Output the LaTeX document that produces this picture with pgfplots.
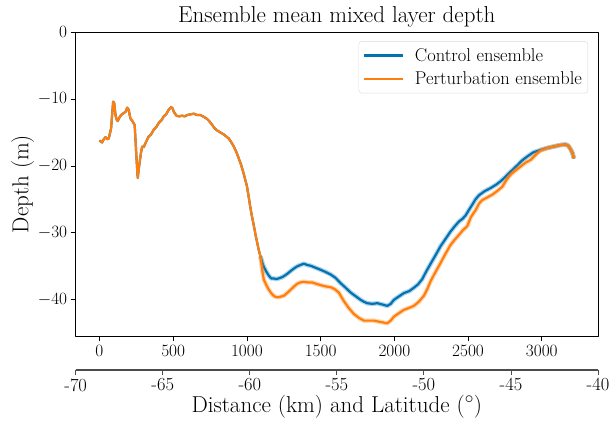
\documentclass[border=0pt]{standalone}
\usepackage{pgfplots}
\pgfplotsset{compat=1.18}
\usepackage{pgfplotstable}
\definecolor{cblue}{RGB}{1,115,178}
\definecolor{corange}{RGB}{255,127,14}

\pgfplotstableread{
x y
0 -16.2
18 -16.5
30 -16.0
41 -15.7
52 -16.0
63 -15.9
79 -14.4
93 -10.4
100 -10.6
109 -12.4
117 -13.1
124 -13.3
135 -12.8
147 -12.4
165 -12.1
178 -11.9
188 -11.3
198 -11.6
210 -12.9
226 -13.4
239 -13.9
249 -17.9
256 -20.6
260 -21.8
266 -20.6
273 -19.4
282 -18.0
290 -17.1
300 -17.2
312 -16.6
334 -15.6
350 -15.3
368 -14.6
385 -14.2
402 -13.6
420 -13.2
436 -12.6
452 -12.3
470 -11.6
486 -11.2
496 -11.4
504 -11.9
522 -12.5
540 -12.6
561 -12.5
578 -12.6
595 -12.4
618 -12.3
640 -12.2
662 -12.4
685 -12.4
710 -12.7
731 -13.0
748 -13.4
765 -13.9
782 -14.4
798 -14.7
820 -15.0
843 -15.3
860 -15.6
877 -15.9
895 -16.5
911 -17.1
928 -17.9
945 -18.9
960 -19.8
975 -20.9
988 -22.0
1000 -23.0
1012 -24.6
1022 -26.0
1033 -27.4
1045 -28.7
1058 -30.2
1070 -31.5
1082 -32.7
1092 -33.5
}\common

\pgfplotstableread{
x y
1092 -33.5
1104 -34.4
1115 -35.1
1132 -35.8
1149 -36.4
1165 -36.8
1182 -36.8
1198 -36.9
1216 -36.8
1240 -36.6
1262 -36.3
1280 -36.0
1296 -35.7
1320 -35.3
1341 -35.0
1362 -34.8
1386 -34.6
1410 -34.8
1431 -34.9
1465 -35.2
1499 -35.5
1530 -35.8
1567 -36.2
1600 -36.7
1635 -37.5
1670 -38.2
1703 -38.9
1740 -39.5
1771 -40.0
1795 -40.3
1816 -40.5
1850 -40.6
1884 -40.5
1920 -40.7
1952 -40.9
1975 -40.6
1997 -40.0
2030 -39.5
2064 -39.0
2100 -38.7
2132 -38.2
2160 -37.7
2189 -36.9
2215 -35.8
2246 -34.6
2280 -33.3
2313 -32.0
2347 -30.9
2381 -29.8
2410 -29.0
2438 -28.3
2462 -27.9
2483 -27.4
2505 -26.6
2528 -25.8
2550 -25.0
2573 -24.4
2610 -23.8
2653 -23.3
2690 -22.8
2720 -22.3
2750 -21.7
2777 -21.1
2805 -20.5
2834 -19.9
2865 -19.2
2901 -18.6
2940 -18.0
2992 -17.6
3040 -17.3
3082 -17.1
3120 -16.9
3161 -16.8
3180 -17.0
3195 -17.5
3208 -18.1
3218 -18.9
}\ctrl

\pgfplotstableread{
x y
1092 -33.5
1104 -35.6
1115 -37.0
1132 -37.8
1149 -38.5
1165 -39.0
1182 -39.4
1198 -39.6
1216 -39.6
1233 -39.5
1250 -39.4
1272 -39.0
1296 -38.5
1320 -38.0
1341 -37.6
1362 -37.4
1386 -37.3
1415 -37.4
1443 -37.4
1470 -37.6
1499 -37.8
1535 -38.0
1567 -38.1
1595 -38.4
1623 -38.9
1658 -40.2
1690 -41.2
1725 -42.1
1760 -42.7
1793 -43.1
1825 -43.1
1861 -43.1
1905 -43.3
1952 -43.5
1975 -43.1
1997 -42.5
2030 -42.0
2064 -41.5
2100 -41.2
2132 -40.9
2165 -40.3
2200 -39.4
2225 -38.3
2246 -37.2
2280 -35.8
2313 -34.5
2347 -33.1
2381 -31.8
2410 -31.0
2438 -30.3
2465 -29.6
2494 -29.0
2520 -27.6
2551 -26.6
2575 -25.6
2596 -25.1
2630 -24.7
2664 -24.3
2700 -23.7
2732 -23.1
2760 -22.1
2788 -21.3
2820 -20.7
2856 -20.1
2890 -19.5
2924 -19.1
2960 -18.3
2992 -17.7
3040 -17.3
3082 -17.1
3120 -16.9
3161 -16.8
3180 -17.0
3195 -17.5
3208 -18.1
3218 -18.9
}\pert

\begin{document}
\begin{tikzpicture}
\useasboundingbox (-75.7pt,-85pt) rectangle (533.3pt,336pt);
\begin{axis}[
  at={(0pt,0pt)}, anchor=south west,
  scale only axis, width=522.3pt, height=304pt,
  xmin=-161, xmax=3381, ymin=-45.4, ymax=0,
  xtick={0,500,...,3000}, ytick={-40,-30,...,0},
  xtick pos=bottom, ytick pos=left,
  tick align=outside, major tick length=5pt,
  tick style={black, line width=0.8pt},
  axis line style={line width=0.8pt},
  ticklabel style={font=\fontsize{18.5}{22}\selectfont},
  x tick label style={/pgf/number format/set thousands separator={}, yshift=-1pt},
  title={Ensemble mean mixed layer depth},
  title style={font=\fontsize{23}{27}\selectfont, yshift=-5pt},
  ylabel={Depth (m)},
  ylabel style={font=\fontsize{23}{27}\selectfont, yshift=-3pt},
  legend style={at={(0.981,0.97)}, anchor=north east, draw=black!15, rounded corners=3pt,
    font=\fontsize{18.5}{22}\selectfont, inner xsep=4pt, inner ysep=5pt, row sep=5pt,
    /tikz/every odd column/.append style={column sep=9pt}},
  legend cell align=left,
  legend image code/.code={\draw[#1, line width=2.2pt] (0pt,0pt) -- (39pt,0pt);},
  line join=round,
]
\addplot[cblue, line width=4.6pt, opacity=0.3, forget plot] table {\ctrl};
\addplot[cblue, line width=2.2pt, forget plot] table {\common};
\addplot[cblue, line width=2.2pt] table {\ctrl};
\addlegendentry{Control ensemble}
\addplot[corange, line width=4.6pt, opacity=0.3, forget plot] table {\pert};
\addplot[corange, line width=2.2pt, forget plot] table {\common};
\addplot[corange, line width=2.2pt] table {\pert};
\addlegendentry{Perturbation ensemble}
\end{axis}
\begin{axis}[
  at={(0pt,-34pt)}, anchor=south west,
  scale only axis, width=522.3pt, height=1pt,
  xmin=-70, xmax=-40, ymin=0, ymax=1,
  axis y line=none, axis x line*=bottom,
  axis line style={gray!60!black, line width=1.4pt, -},
  xtick={-70,-65,...,-40},
  xticklabels={-70,-65,-60,-55,-50,-45,-40},
  tick align=outside, major tick length=5pt,
  tick style={gray!60!black, line width=0.9pt},
  ticklabel style={font=\fontsize{18.5}{22}\selectfont},
  xlabel={Distance (km) and Latitude ($^\circ$)},
  xlabel style={font=\fontsize{23}{27}\selectfont, yshift=3pt},
]
\end{axis}
\end{tikzpicture}
\end{document}
